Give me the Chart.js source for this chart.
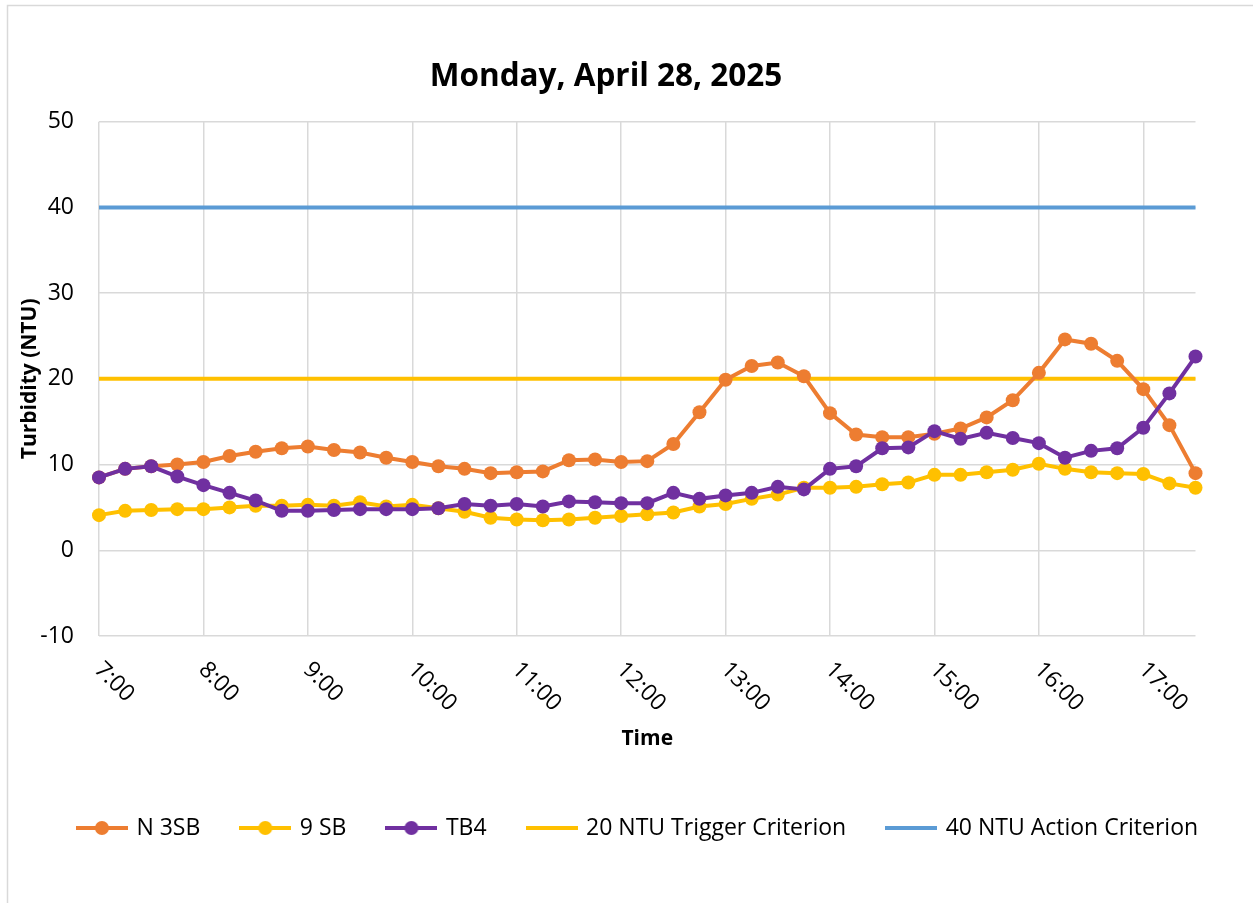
<!DOCTYPE html>
<html>
<head>
<meta charset="utf-8">
<title>Turbidity - Monday, April 28, 2025</title>
<script src="https://cdn.jsdelivr.net/npm/chart.js@4.4.1/dist/chart.umd.min.js"></script>
<style>
  html, body { margin: 0; padding: 0; background: #fff; }
  #wrap { width: 1253px; height: 903px; position: relative; }
</style>
</head>
<body>
<div id="wrap"><canvas id="turbidityChart"></canvas></div>
<script>
// 15 minute readings, 7:00 - 17:30
const times = [
  '7:00', '7:15', '7:30', '7:45', '8:00', '8:15', '8:30', '8:45',
  '9:00', '9:15', '9:30', '9:45', '10:00', '10:15', '10:30', '10:45',
  '11:00', '11:15', '11:30', '11:45', '12:00', '12:15', '12:30', '12:45',
  '13:00', '13:15', '13:30', '13:45', '14:00', '14:15', '14:30', '14:45',
  '15:00', '15:15', '15:30', '15:45', '16:00', '16:15', '16:30', '16:45',
  '17:00', '17:15', '17:30'
];

const n3sb = [
  8.5, 9.5, 9.8, 10.0, 10.3, 11.0, 11.5, 11.9,
  12.1, 11.7, 11.4, 10.8, 10.3, 9.8, 9.5, 9.0,
  9.1, 9.2, 10.5, 10.6, 10.3, 10.4, 12.4, 16.1,
  19.9, 21.5, 21.9, 20.3, 16.0, 13.5, 13.2, 13.2,
  13.6, 14.2, 15.5, 17.5, 20.7, 24.6, 24.1, 22.1,
  18.8, 14.6, 9.0
];

const sb9 = [
  4.1, 4.6, 4.7, 4.8, 4.8, 5.0, 5.2, 5.2,
  5.3, 5.2, 5.6, 5.1, 5.3, 4.9, 4.5, 3.8,
  3.6, 3.5, 3.6, 3.8, 4.0, 4.2, 4.4, 5.1,
  5.4, 6.0, 6.5, 7.3, 7.3, 7.4, 7.7, 7.9,
  8.8, 8.8, 9.1, 9.4, 10.1, 9.5, 9.1, 9.0,
  8.9, 7.8, 7.3
];

const tb4 = [
  8.5, 9.5, 9.8, 8.6, 7.6, 6.7, 5.8, 4.6,
  4.6, 4.7, 4.8, 4.8, 4.8, 4.9, 5.4, 5.2,
  5.4, 5.1, 5.7, 5.6, 5.5, 5.5, 6.7, 6.0,
  6.4, 6.7, 7.4, 7.1, 9.5, 9.8, 11.9, 12.0,
  13.9, 13.0, 13.7, 13.1, 12.5, 10.8, 11.6, 11.9,
  14.3, 18.3, 22.6
];

const triggerLevel = 20;
const actionLevel = 40;

const ORANGE = '#ED7D31';
const YELLOW = '#FFC000';
const PURPLE = '#7030A0';
const BLUE = '#5B9BD5';
const GRID = '#D9D9D9';
const FONT = '"Open Sans", sans-serif';

Chart.defaults.font.family = FONT;
Chart.defaults.color = '#000';

// excel style legend marker: line with a dot in the middle
function legendIcon(color, withDot) {
  const c = document.createElement('canvas');
  c.width = 52;
  c.height = 16;
  const g = c.getContext('2d');
  g.strokeStyle = color;
  g.lineWidth = 4;
  g.beginPath();
  g.moveTo(0, 8);
  g.lineTo(52, 8);
  g.stroke();
  if (withDot) {
    g.fillStyle = color;
    g.beginPath();
    g.arc(26, 8, 7, 0, Math.PI * 2);
    g.fill();
  }
  return c;
}
const legendIcons = [
  legendIcon(ORANGE, true),
  legendIcon(YELLOW, true),
  legendIcon(PURPLE, true),
  legendIcon(YELLOW, false),
  legendIcon(BLUE, false)
];

function series(label, values, color, order) {
  return {
    label: label,
    data: values,
    borderColor: color,
    backgroundColor: color,
    borderWidth: 4,
    pointRadius: 7,
    pointBorderWidth: 0,
    pointHoverRadius: 7,
    order: order,
    clip: false
  };
}

function criterion(label, level, color, order) {
  return {
    label: label,
    data: [{x: times[0], y: level}, {x: times[times.length - 1], y: level}],
    borderColor: color,
    backgroundColor: color,
    borderWidth: 4,
    pointRadius: 0,
    order: order,
    clip: false
  };
}

const chromePlugin = {
  id: 'chrome',
  beforeDraw(chart) {
    const ctx = chart.ctx;
    ctx.save();
    ctx.fillStyle = '#fff';
    ctx.fillRect(0, 0, chart.width, chart.height);
    ctx.strokeStyle = GRID;
    ctx.lineWidth = 1.5;
    ctx.strokeRect(7.5, 5.5, chart.width + 20, chart.height + 20);
    ctx.restore();
  },
  afterDraw(chart) {
    const ctx = chart.ctx;
    const xs = chart.scales.x;
    ctx.save();
    // title
    ctx.fillStyle = '#000';
    ctx.font = 'bold 31.5px ' + FONT;
    ctx.textAlign = 'center';
    ctx.textBaseline = 'middle';
    ctx.fillText('Monday, April 28, 2025', 606, 77);
    // hourly tick labels, slanted down to the right
    ctx.font = '23px ' + FONT;
    ctx.textAlign = 'left';
    times.forEach((t, i) => {
      if (!t.endsWith(':00')) return;
      const x = xs.getPixelForTick(i);
      ctx.save();
      ctx.translate(x - 1, xs.top + 30);
      ctx.rotate(Math.PI / 4);
      ctx.fillText(t, 0, 0);
      ctx.restore();
    });
    ctx.restore();
  }
};

const ctx = document.getElementById('turbidityChart').getContext('2d');
const turbidityChart = new Chart(ctx, {
  type: 'line',
  data: {
    labels: times,
    datasets: [
      series('N 3SB', n3sb, ORANGE, 3),
      series('9 SB', sb9, YELLOW, 2),
      series('TB4', tb4, PURPLE, 1),
      criterion('20 NTU Trigger Criterion', triggerLevel, YELLOW, 5),
      criterion('40 NTU Action Criterion', actionLevel, BLUE, 4)
    ]
  },
  options: {
    responsive: true,
    maintainAspectRatio: false,
    animation: false,
    layout: {
      padding: {left: 24, right: 0, top: 121.7, bottom: 53.5}
    },
    scales: {
      x: {
        type: 'category',
        offset: false,
        grid: {
          color: c => (times[c.index] || '').endsWith(':00') ? GRID : 'rgba(0,0,0,0)',
          lineWidth: 1.5,
          drawTicks: false
        },
        border: {display: false},
        ticks: {display: false, autoSkip: false},
        title: {
          display: true,
          text: 'Time',
          color: '#000',
          font: {size: 21, weight: 'bold'},
          padding: {top: 0, bottom: 23}
        },
        afterFit: s => { s.height = 138.5; }
      },
      y: {
        min: -10,
        max: 50,
        ticks: {stepSize: 10, padding: 25, color: '#000', font: {size: 23}},
        grid: {color: GRID, lineWidth: 1.5, drawTicks: false},
        border: {display: false},
        title: {
          display: true,
          text: 'Turbidity (NTU)',
          color: '#000',
          font: {size: 21, weight: 'bold'},
          padding: {top: -7, bottom: 0}
        },
        afterFit: s => { s.width = 75; }
      },
      // empty right gutter so the legend gets the full width
      y2: {
        position: 'right',
        grid: {display: false},
        border: {display: false},
        ticks: {display: false},
        afterFit: s => { s.width = 57.5; }
      }
    },
    plugins: {
      title: {display: false},
      tooltip: {enabled: false},
      legend: {
        position: 'bottom',
        labels: {
          usePointStyle: true,
          pointStyleWidth: 46,
          padding: 42,
          color: '#000',
          font: {size: 23},
          sort: (a, b) => a.datasetIndex - b.datasetIndex,
          generateLabels: chart => Chart.defaults.plugins.legend.labels.generateLabels(chart).map(item => {
            item.pointStyle = legendIcons[item.datasetIndex];
            return item;
          })
        }
      }
    }
  },
  plugins: [chromePlugin]
});
</script>
</body>
</html>
